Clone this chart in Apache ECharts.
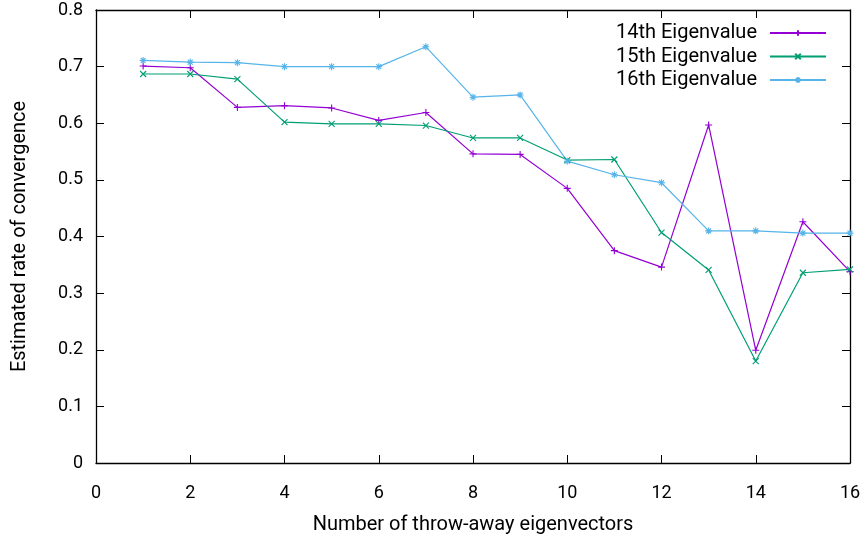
<!DOCTYPE html>
<html>
<head>
<meta charset="utf-8">
<script src="https://cdn.jsdelivr.net/npm/echarts@6/dist/echarts.min.js"></script>
<style>html,body{margin:0;padding:0;background:#fff}#c{width:866px;height:543px}</style>
</head>
<body>
<div id="c"></div>
<script>
const xValues = [1,2,3,4,5,6,7,8,9,10,11,12,13,14,15,16];
const eig14 = [0.701,0.698,0.628,0.631,0.627,0.605,0.619,0.546,0.545,0.485,0.375,0.346,0.597,0.199,0.426,0.338];
const eig15 = [0.687,0.687,0.678,0.602,0.599,0.599,0.596,0.574,0.574,0.535,0.536,0.407,0.341,0.180,0.336,0.342];
const eig16 = [0.711,0.708,0.707,0.700,0.700,0.700,0.735,0.646,0.650,0.533,0.509,0.495,0.410,0.410,0.406,0.406];
const seriesNames = ['14th Eigenvalue','15th Eigenvalue','16th Eigenvalue'];
const colors = ['#9400d3','#009e73','#56b4e9'];

const plusPath = 'path://M0,-1L0,1M-1,0L1,0';
const crossPath = 'path://M-1,-1L1,1M-1,1L1,-1';
const starPath = 'path://M0,-1L0,1M-1,0L1,0M-0.7,-0.7L0.7,0.7M-0.7,0.7L0.7,-0.7';
const symbols = [plusPath, crossPath, starPath];
const sizes = [7, 6, 7];

const font = 'Roboto, "Noto Sans", sans-serif';
const chart = echarts.init(document.getElementById('c'), null, {renderer:'canvas'});

function mk(i, data) {
  return {
    name: seriesNames[i], type: 'line',
    data: xValues.map((x, k) => [x, data[k]]),
    symbol: symbols[i], symbolSize: sizes[i], showAllSymbol: true,
    lineStyle: {color: colors[i], width: 1.2},
    itemStyle: {color: colors[i], borderColor: colors[i], borderWidth: 1.1},
    animation: false
  };
}

const axisCommon = {
  axisLine: {show: true, onZero: false, lineStyle: {color: '#000', width: 1.3}},
  axisTick: {show: true, inside: true, length: 8, lineStyle: {color: '#000', width: 1}},
  splitLine: {show: false}
};

chart.setOption({
  backgroundColor: '#fff',
  animation: false,
  grid: {left: 96, right: 16, top: 10, bottom: 80, containLabel: false},
  legend: {
    orient: 'vertical', right: 34, top: 18, align: 'right',
    itemWidth: 56, itemHeight: 7, itemGap: 3.5,
    textStyle: {fontFamily: font, fontSize: 20, color: '#000', padding: [0, 8, 0, 0]},
    data: seriesNames
  },
  xAxis: [
    Object.assign({}, axisCommon, {
      type: 'value', min: 0, max: 16, interval: 2,
      name: 'Number of throw-away eigenvectors', nameLocation: 'middle', nameGap: 52,
      nameTextStyle: {fontFamily: font, fontSize: 20, color: '#000'},
      axisLabel: {fontFamily: font, fontSize: 18, color: '#000', margin: 21}
    }),
    Object.assign({}, axisCommon, {
      type: 'value', min: 0, max: 16, interval: 2, position: 'top',
      axisLabel: {show: false}
    })
  ],
  yAxis: [
    Object.assign({}, axisCommon, {
      type: 'value', min: 0, max: 0.8, interval: 0.1,
      name: 'Estimated rate of convergence', nameLocation: 'middle', nameGap: 66,
      nameTextStyle: {fontFamily: font, fontSize: 20, color: '#000'},
      axisLabel: {fontFamily: font, fontSize: 18, color: '#000', margin: 13,
        formatter: v => (Math.round(v*10)/10).toString()}
    }),
    Object.assign({}, axisCommon, {
      type: 'value', min: 0, max: 0.8, interval: 0.1, position: 'right',
      axisLabel: {show: false}
    })
  ],
  series: [mk(0, eig14), mk(1, eig15), mk(2, eig16)]
});
</script>
</body>
</html>
